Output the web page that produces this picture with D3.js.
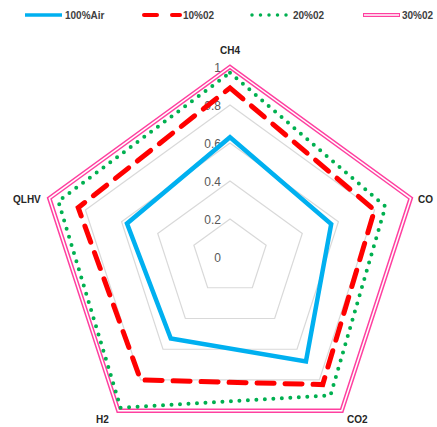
<!DOCTYPE html>
<html><head><meta charset="utf-8">
<script src="https://cdn.jsdelivr.net/npm/d3@7"></script>
<style>body{margin:0;background:#fff}svg{display:block}</style>
</head><body>
<svg id="chart" width="437" height="427"></svg>
<script>
const axes = ["CH4", "CO", "CO2", "H2", "QLHV"];
const ticks = [0, 0.2, 0.4, 0.6, 0.8, 1];
const seriesNames = ["100%Air", "10%02", "20%02", "30%02"];
const air100 = [0.63, 0.56, 0.68, 0.53, 0.57];
const o2_10 = [0.89, 0.80, 0.83, 0.80, 0.84];
const o2_20 = [0.97, 0.86, 0.90, 0.98, 0.95];
const o2_30 = [1, 1, 1, 1, 1];

const svg = d3.select("#chart");
const cx = 230, cy = 257, R = 190;
const r = d3.scaleLinear().domain([0, 1]).range([0, R]);
const ang = d3.scalePoint().domain(axes).range([0, 2 * Math.PI * 4 / 5]);
const pt = (a, v) => [cx + r(v) * Math.sin(ang(a)), cy - r(v) * Math.cos(ang(a))];

// grid rings
const g = svg.append("g");
ticks.slice(1).forEach(t => {
  g.append("path")
    .attr("d", d3.line()(axes.map(a => pt(a, t))) + "Z")
    .attr("fill", "none").attr("stroke", "#d9d9d9").attr("stroke-width", 1.2);
});
// tick labels
ticks.forEach(t => {
  g.append("text").attr("x", cx - 9).attr("y", cy - r(t) + 4.5)
    .attr("text-anchor", "end").attr("font-family", "Liberation Sans, Arial, sans-serif")
    .attr("font-size", 12).attr("fill", "#595959").text(t);
});

const styles = [
  {data: air100, stroke: "#00b0f0", width: 4.5, dash: null, cap: "butt"},
  {data: o2_10, stroke: "#ff0000", width: 5, dash: "17,11", cap: "round"},
  {data: o2_20, stroke: "#00b050", width: 4, dash: "0,8.5", cap: "round"},
  {data: o2_30, stroke: "#ff40a0", width: 4.5, dash: null, cap: "butt", dbl: true}
];
const line = d3.line();
styles.slice().reverse().forEach(s => {
  const d = line(axes.map((a, i) => pt(a, s.data[i]))) + "Z";
  svg.append("path").attr("d", d).attr("fill", "none")
    .attr("stroke", s.stroke).attr("stroke-width", s.width)
    .attr("stroke-dasharray", s.dash).attr("stroke-linecap", s.cap)
    .attr("stroke-linejoin", "miter");
  if (s.dbl) svg.append("path").attr("d", d).attr("fill", "none")
    .attr("stroke", "#fff").attr("stroke-width", 1.5);
});

// axis labels
const lab = [
  {x: 230, y: 54, a: "middle"},
  {x: 418, y: 203, a: "start"},
  {x: 347, y: 423, a: "start"},
  {x: 96, y: 423, a: "start"},
  {x: 13, y: 203, a: "start"}
];
lab.forEach((l, i) => {
  svg.append("text").attr("x", l.x).attr("y", l.y).attr("text-anchor", l.a)
    .attr("font-family", "Liberation Sans, Arial, sans-serif").attr("font-weight", "bold")
    .attr("font-size", 10).attr("fill", "#262626").text(axes[i]);
});

// legend
const lg = svg.append("g");
const lx = [25, 142, 252, 363];
const tx = [65, 183, 293, 402];
styles.forEach((s, i) => {
  const y = 15;
  if (i === 1) {
    lg.append("line").attr("x1", lx[i] + 2).attr("x2", lx[i] + 15).attr("y1", y).attr("y2", y)
      .attr("stroke", s.stroke).attr("stroke-width", 4).attr("stroke-linecap", "round");
    lg.append("line").attr("x1", lx[i] + 30).attr("x2", lx[i] + 38).attr("y1", y).attr("y2", y)
      .attr("stroke", s.stroke).attr("stroke-width", 4).attr("stroke-linecap", "round");
  } else {
    lg.append("line").attr("x1", lx[i]).attr("x2", lx[i] + 37).attr("y1", y).attr("y2", y)
      .attr("stroke", s.stroke).attr("stroke-width", i === 3 ? 4 : 3.5)
      .attr("stroke-dasharray", i === 2 ? "0,8.5" : null)
      .attr("stroke-linecap", i === 2 ? "round" : "butt");
    if (s.dbl) lg.append("line").attr("x1", lx[i] + 1).attr("x2", lx[i] + 36).attr("y1", y).attr("y2", y)
      .attr("stroke", "#fff").attr("stroke-width", 1.3);
  }
  lg.append("text").attr("x", tx[i]).attr("y", y + 3.5)
    .attr("font-family", "Liberation Sans, Arial, sans-serif").attr("font-weight", "bold")
    .attr("font-size", 10).attr("fill", "#404040").text(seriesNames[i]);
});
</script>
</body></html>
